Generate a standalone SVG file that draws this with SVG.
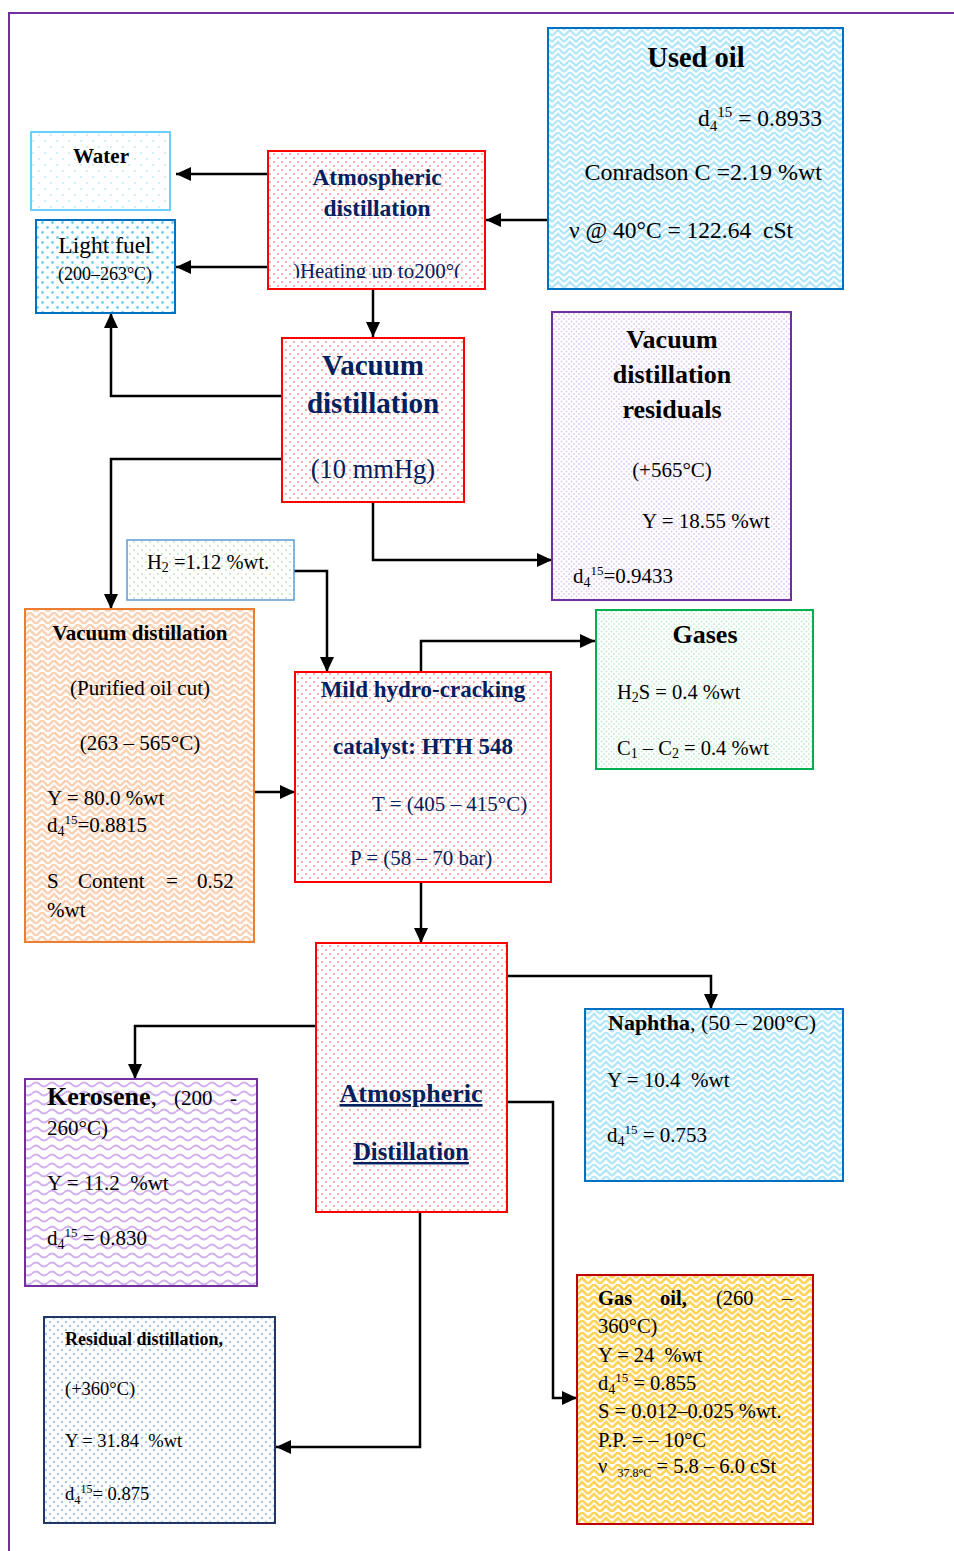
<svg xmlns="http://www.w3.org/2000/svg" width="954" height="1551" viewBox="0 0 954 1551">
<style>
text{font-family:"Liberation Serif","Times New Roman",serif;fill:#000}
.b{font-weight:bold}
.nv{fill:#002060}
.c{text-anchor:middle}
.conn path{fill:none;stroke:#000;stroke-width:2.5}
.box{stroke-width:2}
</style>
<defs>
<marker id="ah" markerWidth="15" markerHeight="14" refX="15" refY="7" orient="auto" markerUnits="userSpaceOnUse"><path d="M0,0 L15,7 L0,14 z" fill="#000"/></marker>
<pattern id="pinkDots" width="8" height="8" patternUnits="userSpaceOnUse"><rect width="8" height="8" fill="#fff"/><circle cx="2" cy="2" r="1.1" fill="#FF9C9C"/><circle cx="6" cy="6" r="1.1" fill="#FF9C9C"/></pattern>
<pattern id="waterDots" width="12" height="12" patternUnits="userSpaceOnUse"><rect width="12" height="12" fill="#fff"/><circle cx="3" cy="3" r="1" fill="#BFEAF8"/><circle cx="9" cy="9" r="1" fill="#BFEAF8"/></pattern>
<pattern id="lfDots" width="10" height="10" patternUnits="userSpaceOnUse"><rect width="10" height="10" fill="#fff"/><circle cx="2.5" cy="2.5" r="1.4" fill="#6FD0F5"/><circle cx="7.5" cy="7.5" r="1.4" fill="#6FD0F5"/></pattern>
<pattern id="weaveCyan" width="12" height="12" patternUnits="userSpaceOnUse"><rect width="12" height="12" fill="#fff"/><path d="M0,6 L6,0 L12,6 M0,12 L6,6 L12,12 M-3,3 L0,0 M12,0 L15,3" stroke="#B3E7F9" stroke-width="2.4" fill="none"/></pattern>
<pattern id="weaveOrange" width="12" height="12" patternUnits="userSpaceOnUse"><rect width="12" height="12" fill="#fff"/><path d="M0,6 L6,0 L12,6 M0,12 L6,6 L12,12" stroke="#FAD2B6" stroke-width="2.6" fill="none"/></pattern>
<pattern id="weaveYellow" width="12" height="12" patternUnits="userSpaceOnUse"><rect width="12" height="12" fill="#fff"/><path d="M0,6 L6,0 L12,6 M0,12 L6,6 L12,12" stroke="#FFD45C" stroke-width="2.8" fill="none"/></pattern>
<pattern id="lavDots" width="5" height="5" patternUnits="userSpaceOnUse"><rect width="5" height="5" fill="#fff"/><circle cx="1.5" cy="1.5" r="1" fill="#E0CDF2"/><circle cx="4" cy="4" r="1" fill="#E0CDF2"/></pattern>
<pattern id="greenDots" width="8" height="8" patternUnits="userSpaceOnUse"><rect width="8" height="8" fill="#fff"/><circle cx="2" cy="2" r="1" fill="#C9E3B8"/><circle cx="6" cy="6" r="1" fill="#C9E3B8"/></pattern>
<pattern id="gasDots" width="5" height="5" patternUnits="userSpaceOnUse"><rect width="5" height="5" fill="#fff"/><circle cx="1.5" cy="1.5" r="1" fill="#C6EED4"/><circle cx="4" cy="4" r="1" fill="#C6EED4"/></pattern>
<pattern id="waveLav" width="16" height="9" patternUnits="userSpaceOnUse"><rect width="16" height="9" fill="#fff"/><path d="M0,4.5 Q4,0.5 8,4.5 T16,4.5" stroke="#D3B0EE" stroke-width="1.8" fill="none"/></pattern>
<pattern id="blueDots" width="8" height="8" patternUnits="userSpaceOnUse"><rect width="8" height="8" fill="#fff"/><circle cx="2" cy="2" r="1.2" fill="#A9C8EA"/><circle cx="6" cy="6" r="1.2" fill="#A9C8EA"/></pattern>
<clipPath id="atmClip"><rect x="268" y="151" width="217" height="127"/></clipPath>
</defs>

<g id="frame">
<path d="M8,13 H954 M9,12 V1551" fill="none" stroke="#7030A0" stroke-width="2"/>
</g>

<g id="connectors" class="conn">
<path d="M548,220 H486" marker-end="url(#ah)"/>
<path d="M268,174 H176" marker-end="url(#ah)"/>
<path d="M268,267 H176" marker-end="url(#ah)"/>
<path d="M373,289 V337" marker-end="url(#ah)"/>
<path d="M282,396 H111 V313" marker-end="url(#ah)"/>
<path d="M282,459 H111 V609" marker-end="url(#ah)"/>
<path d="M373,502 V560 H552" marker-end="url(#ah)"/>
<path d="M294,571 H327 V672" marker-end="url(#ah)"/>
<path d="M254,792 H295" marker-end="url(#ah)"/>
<path d="M421,672 V641 H595" marker-end="url(#ah)"/>
<path d="M421,882 V943" marker-end="url(#ah)"/>
<path d="M507,976 H711 V1009" marker-end="url(#ah)"/>
<path d="M316,1026 H135 V1079" marker-end="url(#ah)"/>
<path d="M507,1102 H553 V1398 H577" marker-end="url(#ah)"/>
<path d="M420,1212 V1447 H276" marker-end="url(#ah)"/>
</g>

<g id="water">
<rect x="31" y="132" width="139" height="78" fill="url(#waterDots)" stroke="#66D0FF" class="box"/>
<text x="101" y="163" class="b c" font-size="21">Water</text>
</g>

<g id="light-fuel">
<rect x="36" y="220" width="139" height="93" fill="url(#lfDots)" stroke="#0070C0" class="box"/>
<text x="105" y="253" class="c" font-size="23.5">Light fuel</text>
<text x="105" y="280" class="c" font-size="18">(200–263°C)</text>
</g>

<g id="atm-distillation">
<rect x="268" y="151" width="217" height="138" fill="url(#pinkDots)" stroke="#FF0000" class="box"/>
<text x="377" y="185" class="b c nv" font-size="23.5">Atmospheric</text>
<text x="377" y="216" class="b c nv" font-size="23.5">distillation</text>
<text x="377" y="278" class="c nv" font-size="21" clip-path="url(#atmClip)">)Heating up to200°(</text>
</g>

<g id="used-oil">
<rect x="548" y="28" width="295" height="261" fill="url(#weaveCyan)" stroke="#0070C0" class="box"/>
<text x="696" y="67" class="b c" font-size="28.5">Used oil</text>
<text x="822" y="126" text-anchor="end" font-size="23.5">d<tspan dy="5" font-size="15">4</tspan><tspan dy="-14" font-size="15">15</tspan><tspan dy="9"> = 0.8933</tspan></text>
<text x="822" y="180" text-anchor="end" font-size="24">Conradson C =2.19 %wt</text>
<text x="569" y="238" font-size="23.5">ν @ 40°C = 122.64&#160; cSt</text>
</g>

<g id="vacuum-distillation">
<rect x="282" y="338" width="182" height="164" fill="url(#pinkDots)" stroke="#FF0000" class="box"/>
<text x="373" y="375" class="b c nv" font-size="29">Vacuum</text>
<text x="373" y="413" class="b c nv" font-size="29">distillation</text>
<text x="373" y="478" class="c nv" font-size="26.5">(10 mmHg)</text>
</g>

<g id="vacuum-residuals">
<rect x="552" y="312" width="239" height="288" fill="url(#lavDots)" stroke="#7030A0" class="box"/>
<text x="672" y="348" class="b c" font-size="26">Vacuum</text>
<text x="672" y="383" class="b c" font-size="26">distillation</text>
<text x="672" y="418" class="b c" font-size="26">residuals</text>
<text x="672" y="477" class="c" font-size="21">(+565°C)</text>
<text x="642" y="528" font-size="21">Y = 18.55 %wt</text>
<text x="573" y="583" font-size="21">d<tspan dy="4" font-size="14">4</tspan><tspan dy="-12" font-size="13">15</tspan><tspan dy="8">=0.9433</tspan></text>
</g>

<g id="hydrogen">
<rect x="127" y="540" width="167" height="60" fill="url(#greenDots)" stroke="#5B9BD5" stroke-width="1.5"/>
<text x="147" y="569" font-size="20.5">H<tspan dy="3" font-size="14">2</tspan><tspan dy="-3"> =1.12 %wt.</tspan></text>
</g>

<g id="purified-oil">
<rect x="25" y="609" width="229" height="333" fill="url(#weaveOrange)" stroke="#ED7D31" class="box"/>
<text x="140" y="640" class="b c" font-size="21">Vacuum distillation</text>
<text x="140" y="695" class="c" font-size="21">(Purified oil cut)</text>
<text x="140" y="750" class="c" font-size="21">(263 – 565°C)</text>
<text x="47" y="805" font-size="21">Y = 80.0 %wt</text>
<text x="47" y="832" font-size="21">d<tspan dy="4" font-size="14">4</tspan><tspan dy="-12" font-size="13">15</tspan><tspan dy="8">=0.8815</tspan></text>
<text x="47" y="888" font-size="21">S</text>
<text x="78" y="888" font-size="21">Content</text>
<text x="166" y="888" font-size="21">=</text>
<text x="197" y="888" font-size="21">0.52</text>
<text x="47" y="917" font-size="21">%wt</text>
</g>

<g id="mild-hydrocracking">
<rect x="295" y="672" width="256" height="210" fill="url(#pinkDots)" stroke="#FF0000" class="box"/>
<text x="423" y="697" class="b c nv" font-size="23">Mild hydro-cracking</text>
<text x="423" y="754" class="b c nv" font-size="23">catalyst: HTH 548</text>
<text x="372" y="811" class="nv" font-size="21">T = (405 – 415°C)</text>
<text x="350" y="865" class="nv" font-size="21">P = (58 – 70 bar)</text>
</g>

<g id="gases">
<rect x="596" y="610" width="217" height="159" fill="url(#gasDots)" stroke="#00B050" class="box"/>
<text x="705" y="643" class="b c" font-size="26">Gases</text>
<text x="617" y="699" font-size="20.5">H<tspan dy="3" font-size="14">2</tspan><tspan dy="-3">S = 0.4 %wt</tspan></text>
<text x="617" y="755" font-size="20.5">C<tspan dy="3" font-size="14">1</tspan><tspan dy="-3"> – C</tspan><tspan dy="3" font-size="14">2</tspan><tspan dy="-3"> = 0.4 %wt</tspan></text>
</g>

<g id="atm-distillation-2">
<rect x="316" y="943" width="191" height="269" fill="url(#pinkDots)" stroke="#FF0000" class="box"/>
<text x="411" y="1102" class="b c nv" font-size="26" text-decoration="underline">Atmospheric</text>
<text x="411" y="1160" class="b c nv" font-size="24.5" text-decoration="underline">Distillation</text>
</g>

<g id="naphtha">
<rect x="585" y="1009" width="258" height="172" fill="url(#weaveCyan)" stroke="#0070C0" class="box"/>
<text x="608" y="1030" font-size="22"><tspan class="b">Naphtha</tspan>, (50 – 200°C)</text>
<text x="607" y="1087" font-size="21">Y = 10.4&#160; %wt</text>
<text x="607" y="1142" font-size="21">d<tspan dy="4" font-size="14">4</tspan><tspan dy="-12" font-size="13">15</tspan><tspan dy="8"> = 0.753</tspan></text>
</g>

<g id="kerosene">
<rect x="25" y="1079" width="232" height="207" fill="url(#waveLav)" stroke="#7030A0" class="box"/>
<text x="47" y="1105" font-size="26"><tspan class="b">Kerosene</tspan>,</text>
<text x="174" y="1105" font-size="21">(200</text>
<text x="230" y="1105" font-size="21">-</text>
<text x="47" y="1135" font-size="21">260°C)</text>
<text x="47" y="1190" font-size="21">Y = 11.2&#160; %wt</text>
<text x="47" y="1245" font-size="21">d<tspan dy="4" font-size="14">4</tspan><tspan dy="-12" font-size="13">15</tspan><tspan dy="8"> = 0.830</tspan></text>
</g>

<g id="residual-distillation">
<rect x="44" y="1317" width="231" height="206" fill="url(#blueDots)" stroke="#1F3864" class="box"/>
<text x="65" y="1345" class="b" font-size="18">Residual distillation,</text>
<text x="65" y="1395" font-size="18.5">(+360°C)</text>
<text x="65" y="1447" font-size="18.5">Y = 31.84&#160; %wt</text>
<text x="65" y="1500" font-size="18.5">d<tspan dy="4" font-size="12.5">4</tspan><tspan dy="-11" font-size="12">15</tspan><tspan dy="7">= 0.875</tspan></text>
</g>

<g id="gas-oil">
<rect x="577" y="1275" width="236" height="249" fill="url(#weaveYellow)" stroke="#C00000" class="box"/>
<text x="598" y="1305" class="b" font-size="20.5">Gas</text>
<text x="660" y="1305" class="b" font-size="20.5">oil,</text>
<text x="716" y="1305" font-size="20.5">(260</text>
<text x="782" y="1305" font-size="20.5">–</text>
<text x="598" y="1333" font-size="20.5">360°C)</text>
<text x="598" y="1362" font-size="20.5">Y = 24&#160; %wt</text>
<text x="598" y="1390" font-size="20.5">d<tspan dy="4" font-size="14">4</tspan><tspan dy="-12" font-size="13">15</tspan><tspan dy="8"> = 0.855</tspan></text>
<text x="598" y="1418" font-size="20.5">S = 0.012–0.025 %wt.</text>
<text x="598" y="1447" font-size="20.5">P.P. = – 10°C</text>
<text x="598" y="1473" font-size="20.5">ν&#160; <tspan dy="4" font-size="12"> 37.8°C</tspan><tspan dy="-4"> = 5.8 – 6.0 cSt</tspan></text>
</g>
</svg>
